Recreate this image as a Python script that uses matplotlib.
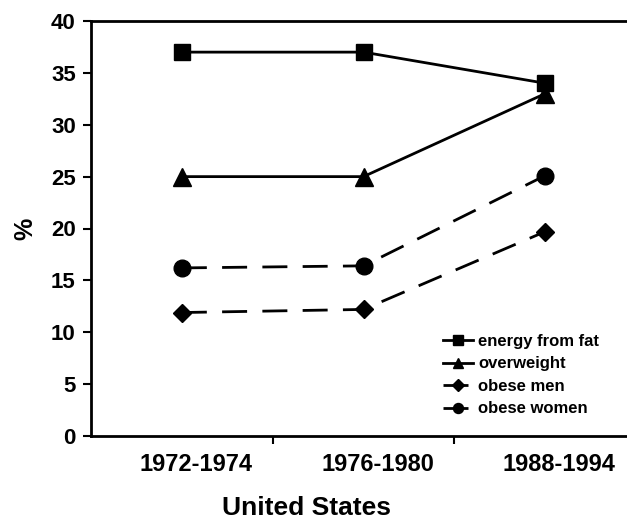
import numpy as np
import matplotlib.pyplot as plt
from matplotlib.transforms import ScaledTranslation

periods = ['1972-1974', '1976-1980', '1988-1994']
energy_from_fat = [37.0, 37.0, 34.0]
overweight = [25.0, 25.0, 33.0]
obese_men = [11.9, 12.2, 19.7]
obese_women = [16.2, 16.4, 25.1]

plt.rcParams['font.family'] = ['Liberation Sans', 'DejaVu Sans']
plt.rcParams['font.weight'] = 'bold'

fig = plt.figure(figsize=(6.27, 5.25), dpi=100)
# axes runs past the right edge like the scanned original
ax = fig.add_axes([91/627, 1-436/525, (636-91)/627, (436-21)/525])

x = np.arange(len(periods))
ax.plot(x, energy_from_fat, '-', color='black', lw=2, marker='s', ms=11.5, label='energy from fat')
ax.plot(x, overweight, '-', color='black', lw=2, marker='^', ms=12.5, label='overweight')
ax.plot(x, obese_men, color='black', lw=2, dashes=(9, 5.5), marker='D', ms=9.5, label='obese men')
ax.plot(x, obese_women, color='black', lw=2, dashes=(9, 5.5), marker='o', ms=12, label='obese women')

ax.set_xlim(-0.5, 2.5)
ax.set_ylim(0, 40)
ax.set_yticks(range(0, 41, 5))
ax.set_xticks([0.5, 1.5])
ax.set_xticklabels([])
ax.set_xticks(x, minor=True)
ax.set_xticklabels(periods, minor=True)
ax.tick_params(axis='x', which='minor', length=0, pad=12, labelsize=17)
ax.tick_params(axis='x', which='major', length=6, width=1.5, direction='out')
ax.tick_params(axis='y', length=6, width=1.5, labelsize=16, pad=5)
# labels in the original sit a little right of the points
shift = ScaledTranslation(14/100, 0, fig.dpi_scale_trans)
for lab in ax.get_xticklabels(minor=True):
    lab.set_transform(lab.get_transform() + shift)
for s in ax.spines.values():
    s.set_linewidth(2)
ax.spines['right'].set_visible(False)

ax.set_ylabel('%', fontsize=18, fontweight='bold', labelpad=10)
fig.text(306/627, 1-508/525, 'United States', ha='center', va='center', fontsize=19, fontweight='bold')

leg = ax.legend(loc='lower right', bbox_to_anchor=(523/545, 0.011), frameon=False,
                fontsize=12, handlelength=1.8, handletextpad=0.3, labelspacing=0.45,
                markerscale=0.6)

fig.savefig('out.png', dpi=100)
